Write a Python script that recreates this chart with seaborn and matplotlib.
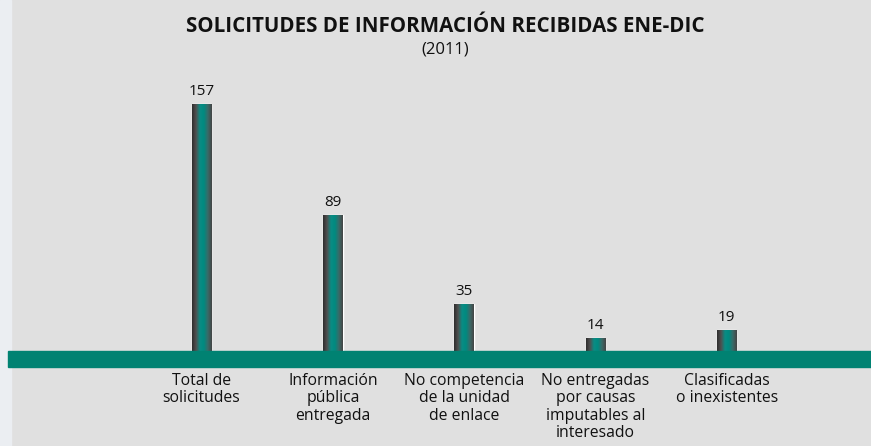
import numpy as np
import pandas as pd
import seaborn as sns
import matplotlib.pyplot as plt
from matplotlib.colors import LinearSegmentedColormap

# Data
categories = ["Total de\nsolicitudes", "Información\npública\nentregada",
              "No competencia\nde la unidad\nde enlace",
              "No entregadas\npor causas\nimputables al\ninteresado",
              "Clasificadas\no inexistentes"]
values = [157, 89, 35, 14, 19]
title = "SOLICITUDES DE INFORMACIÓN RECIBIDAS ENE-DIC"
subtitle = "(2011)"

df = pd.DataFrame({"cat": categories, "val": values})

sns.set_style("white")
plt.rcParams['font.family'] = ['Open Sans', 'DejaVu Sans']

bg = "#e0e0e0"
green = "#008272"

fig = plt.figure(figsize=(8.71, 4.46), dpi=100, facecolor=bg)

# light strip on the left
fig.patches.append(plt.Rectangle((0, 0), 11 / 871, 1, transform=fig.transFigure,
                                 color="#ebeef2", zorder=-5))

ax = fig.add_axes([0, 0, 1, 1])
ax.set_facecolor("none")

sns.barplot(data=df, x="cat", y="val", width=0.148, color="#00857a", ax=ax,
            saturation=1, zorder=2)

ax.set_xlim(-1.535, 5.099)
ax.set_ylim(-51.9, 220.4)

# gradient fill on each bar (dark edges, teal centre)
cmap = LinearSegmentedColormap.from_list("bar", ["#2e2e2e", "#505050", "#0a8c84",
                                                 "#008a80", "#3a6a68", "#454545"])
grad = np.linspace(0, 1, 100).reshape(1, -1)
for p in ax.patches:
    x0, y0 = p.get_x(), p.get_y()
    w, h = p.get_width(), p.get_height()
    im = ax.imshow(grad, cmap=cmap, extent=[x0, x0 + w, y0, y0 + h],
                   aspect="auto", zorder=3)
    im.set_clip_path(p)

for i, v in enumerate(values):
    ax.text(i, v + 3, str(v), ha="center", va="bottom", fontsize=11, color="#111111")

# green base band
ax.axhspan(-3.6, 6.2, xmin=8 / 871, xmax=1, color=green, zorder=4)

for i, c in enumerate(categories):
    ax.text(i, -7.5, c, ha="center", va="top", fontsize=11.3, color="#111111",
            linespacing=1.1)

fig.text(445 / 871, 1 - 26 / 446, title, ha="center", va="center",
         fontsize=14.8, fontweight="bold", color="#111111")
fig.text(445 / 871, 1 - 49 / 446, subtitle, ha="center", va="center",
         fontsize=12, color="#111111")

ax.set_xlabel("")
ax.set_ylabel("")
ax.set_xticks([])
ax.set_yticks([])
for s in ax.spines.values():
    s.set_visible(False)

fig.savefig("out.png", dpi=100, facecolor=bg)
